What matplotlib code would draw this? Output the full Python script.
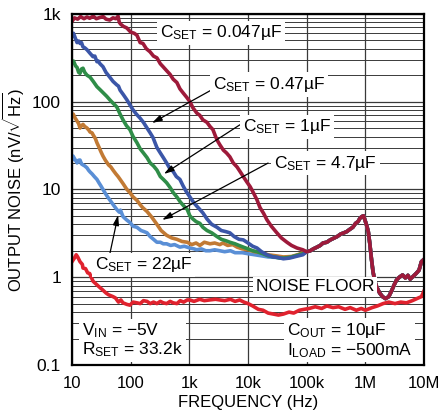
import numpy as np
import matplotlib
matplotlib.use("Agg")
import matplotlib.pyplot as plt
from matplotlib.ticker import LogLocator, FixedLocator, FixedFormatter, NullLocator

# ---------------------------------------------------------------------------
# Data (frequency in Hz, noise in nV/rtHz)
# ---------------------------------------------------------------------------

# shared high-frequency tail: all C_SET curves merge above ~100kHz
tail_f = [100e3, 115e3, 130e3, 150e3, 170e3, 190e3, 220e3, 250e3, 280e3, 330e3,
          380e3, 430e3, 480e3, 540e3, 610e3, 680e3, 750e3, 810e3, 870e3, 930e3,
          980e3, 1.05e6, 1.12e6, 1.19e6, 1.27e6, 1.35e6, 1.45e6, 1.55e6, 1.75e6,
          1.96e6, 2.2e6, 2.5e6, 2.8e6, 3.1e6, 3.4e6, 3.8e6, 4.3e6, 4.8e6, 5.3e6,
          5.8e6, 6.5e6, 7.3e6, 8.2e6, 9.0e6, 10e6]
tail_v = [1.95, 2.0, 2.1, 2.2, 2.3, 2.45, 2.5, 2.65, 2.75, 2.9,
          3.1, 3.2, 3.3, 3.5, 3.7, 4.1, 4.3, 4.7, 4.9, 5.0,
          4.5, 3.9, 3.3, 2.4, 1.6, 1.15, 0.9, 0.78, 0.66,
          0.6, 0.57, 0.6, 0.7, 0.82, 0.93, 1.0, 1.06, 0.98, 1.05,
          0.95, 1.02, 1.1, 1.2, 1.5, 1.6]

f_047 = [10, 11, 12.5, 14, 16, 18, 20, 23, 26, 30, 34, 38, 44, 50, 56, 61, 64, 68,
         75, 86, 100, 115, 128, 145, 162, 185, 213, 245, 280, 320, 356, 410, 467,
         530, 613, 690, 780, 900, 1020, 1150, 1340, 1500, 1700, 2000, 2250, 2520,
         2800, 3000, 3330, 3800, 4300, 4900, 5600, 6500, 7300, 8300, 9500, 10.9e3,
         12.5e3, 14.2e3, 16e3, 18.5e3, 21e3, 25e3, 31e3, 37e3, 46e3, 55e3, 68e3, 86e3]
v_047 = [820, 900, 870, 930, 880, 920, 890, 940, 880, 910, 930, 870, 850, 900, 880,
         940, 800, 760, 720, 690, 620, 600, 570, 470, 460, 400, 370, 330, 315, 270,
         250, 225, 205, 180, 165, 140, 126, 112, 100, 85, 74, 70, 62, 58, 52, 48,
         40, 36, 32, 28, 26, 23.5, 20, 18, 16, 14, 12.2, 10.7, 9, 7.6, 6.2, 5.3,
         4.5, 3.8, 3.2, 2.8, 2.5, 2.3, 2.15, 2.05]

f_047u = [10, 10.6, 11.5, 12.2, 13, 13.7, 14.5, 15.4, 16.5, 18, 20.3, 22.8, 24.5,
          26.6, 28, 30, 33.7, 38, 44, 50, 58, 62, 66, 75, 86, 97, 109, 125, 144,
          165, 190, 215, 240, 260, 280, 320, 360, 410, 460, 530, 600, 690, 780,
          880, 1020, 1200, 1350, 1510, 1700, 2000, 2400, 2960, 3500, 4200, 4900,
          5800, 7000, 8300, 10e3, 12e3, 14.2e3, 17e3, 21e3, 26.7e3, 32e3, 40e3,
          51e3, 65e3, 86e3]
v_047u = [560, 600, 520, 470, 490, 460, 470, 420, 410, 390, 355, 325, 330, 285,
          290, 270, 250, 215, 190, 170, 155, 150, 135, 120, 105, 92, 81, 72, 65,
          58, 50, 44, 39, 34, 30, 26, 23, 20, 17.5, 16, 14, 13, 11, 9.5, 8.2, 7,
          6.4, 5.9, 5.4, 4.6, 4.0, 3.7, 3.4, 3.3, 3.2, 2.9, 2.7, 2.66, 2.45, 2.25,
          2.15, 1.95, 1.8, 1.7, 1.68, 1.62, 1.65, 1.72, 1.8]

f_1u = [10, 10.6, 11.5, 12.2, 13, 13.7, 14.5, 15.4, 16.5, 18, 20.3, 23, 26.6, 30,
        34, 39, 44, 50, 58, 66, 74, 85, 97, 110, 128, 145, 165, 190, 215, 245,
        280, 320, 360, 410, 470, 530, 613, 700, 800, 920, 1020, 1150, 1300, 1510,
        1700, 2000, 2400, 2960, 3500, 4200, 4900, 6000, 7000, 8300, 10e3, 12e3,
        14.2e3, 18e3, 22e3, 28e3, 35e3, 45e3, 55e3, 70e3, 86e3]
v_1u = [280, 290, 255, 245, 215, 210, 235, 240, 215, 200, 190, 170, 148, 137,
        126, 115, 105, 96, 87, 72, 62, 53, 48, 40, 34, 29, 26, 23, 20, 18.5,
        16.6, 14, 13, 11.9, 10.5, 9.2, 8.2, 7.2, 6.5, 5.9, 5.0, 4.6, 4.3, 4.1,
        3.7, 3.4, 3.2, 2.9, 2.7, 2.6, 2.5, 2.4, 2.3, 2.2, 2.1, 2.0, 1.95, 1.85,
        1.75, 1.7, 1.65, 1.66, 1.7, 1.78, 1.85]

f_47u = [10, 10.5, 11.3, 12.2, 13, 13.7, 14.5, 15.4, 16.5, 18, 19.5, 20.3, 22,
         22.8, 25, 26.6, 29, 31, 33.7, 37, 42, 46, 50, 56, 61, 66, 75, 86, 97,
         110, 128, 145, 160, 190, 230, 280, 330, 410, 500, 613, 750, 920, 1100,
         1300, 1510, 1800, 2250, 2700, 3300, 3740, 4500, 5500, 6500, 8000, 10e3,
         13e3, 17e3, 22e3, 30e3, 40e3, 55e3, 70e3, 86e3]
v_47u = [68, 72, 65, 60, 56, 50, 53, 55, 52, 50, 47, 45, 44, 42, 38, 34, 30, 27,
         24, 21.5, 19, 18, 16.6, 15, 14, 13, 11.5, 10, 9.2, 8.2, 7.5, 6.7, 6.2,
         5.6, 4.8, 4.0, 3.4, 3.0, 2.8, 2.7, 2.55, 2.5, 2.35, 2.45, 2.3, 2.5, 2.4,
         2.45, 2.35, 2.45, 2.3, 2.35, 2.2, 2.1, 2.05, 1.95, 1.9, 1.8, 1.75, 1.7,
         1.72, 1.8, 1.9]

f_22u = [10, 10.4, 11, 11.7, 12.2, 13, 13.7, 14.5, 15.4, 16.5, 18, 19.2, 20.3, 22,
         24, 26.6, 29, 31, 33.7, 37, 40, 44, 48, 52, 58, 64, 67, 74, 85, 97, 110,
         128, 150, 170, 190, 215, 245, 280, 320, 360, 410, 480, 560, 690, 820,
         1020, 1200, 1340, 1600, 1900, 2250, 2700, 3300, 4000, 5000, 6000, 8000,
         10e3, 13e3, 17e3, 22e3, 30e3, 40e3, 55e3, 70e3, 86e3]
v_22u = [22, 24, 22.5, 21, 20, 21.5, 21.6, 19.5, 19, 18.5, 17.6, 16.5, 15.8, 15,
         14, 13, 11.8, 11, 10, 9, 8.3, 7.6, 7.0, 6.5, 5.9, 5.5, 5.8, 4.9, 4.5,
         4.2, 3.8, 3.7, 3.4, 3.3, 3.2, 2.9, 2.7, 2.5, 2.5, 2.4, 2.4, 2.3, 2.35,
         2.2, 2.25, 2.15, 2.1, 2.05, 2.1, 2.0, 2.0, 2.05, 2.0, 1.95, 2.0, 1.9,
         1.9, 1.85, 1.8, 1.75, 1.7, 1.68, 1.65, 1.7, 1.78, 1.85]

f_floor = [10, 11, 11.8, 12.5, 13.7, 15, 15.4, 17, 18.5, 20, 22.8, 25, 30, 33, 38,
           42, 50, 55, 62, 68, 74, 86, 97, 110, 128, 145, 165, 190, 215, 245, 280,
           320, 360, 410, 470, 530, 613, 700, 800, 920, 1020, 1200, 1500, 1800,
           2200, 2800, 3300, 4000, 5000, 6000, 7200, 8500, 10e3, 12e3, 15e3, 18e3,
           22e3, 27e3, 33e3, 40e3, 50e3, 60e3, 75e3, 90e3, 110e3, 140e3, 180e3,
           220e3, 280e3, 350e3, 450e3, 550e3, 700e3, 850e3, 1e6, 1.3e6, 1.6e6,
           2e6, 2.5e6, 3.2e6, 4e6, 5e6, 6.3e6, 8e6, 9e6, 10e6]
v_floor = [1.5, 1.65, 1.8, 1.7, 1.5, 1.4, 1.27, 1.25, 1.12, 1.1, 0.9, 0.85, 0.76,
           0.72, 0.66, 0.63, 0.6, 0.58, 0.52, 0.55, 0.51, 0.49, 0.48, 0.52, 0.51,
           0.5, 0.54, 0.53, 0.5, 0.52, 0.5, 0.53, 0.51, 0.5, 0.53, 0.51, 0.5, 0.54,
           0.52, 0.55, 0.55, 0.53, 0.56, 0.54, 0.55, 0.56, 0.55, 0.54, 0.56, 0.53,
           0.55, 0.52, 0.5, 0.47, 0.43, 0.42, 0.39, 0.38, 0.37, 0.38, 0.4, 0.39,
           0.42, 0.43, 0.44, 0.46, 0.44, 0.47, 0.45, 0.46, 0.43, 0.45, 0.42, 0.44,
           0.42, 0.45, 0.47, 0.5, 0.52, 0.5, 0.52, 0.51, 0.54, 0.58, 0.6, 0.7]

x_ticks = [10, 100, 1e3, 1e4, 1e5, 1e6, 1e7]
x_tick_labels = ["10", "100", "1k", "10k", "100k", "1M", "10M"]
y_ticks = [0.1, 1, 10, 100, 1000]
y_tick_labels = ["0.1", "1", "10", "100", "1k"]

# ---------------------------------------------------------------------------
# Style
# ---------------------------------------------------------------------------

plt.rcParams["font.family"] = ["Liberation Sans", "DejaVu Sans"]
plt.rcParams["mathtext.fontset"] = "custom"
plt.rcParams["mathtext.rm"] = "Liberation Sans"
plt.rcParams["mathtext.it"] = "Liberation Sans"
plt.rcParams["mathtext.bf"] = "Liberation Sans"

C_DARKRED = "#9e1a3a"
C_BLUE = "#3b56a8"
C_GREEN = "#2f8d48"
C_ORANGE = "#c27a34"
C_LIGHTBLUE = "#5a8fd6"
C_RED = "#e0222e"

fig = plt.figure(figsize=(4.39, 4.19), dpi=100)
ax = fig.add_axes([0.164, 0.129, 0.802, 0.838])

ax.set_xscale("log")
ax.set_yscale("log")
ax.set_xlim(10, 1e7)
ax.set_ylim(0.1, 1000)

lw = 2.6
ax.plot(f_floor, v_floor, color=C_RED, lw=lw, zorder=3)
ax.plot(f_22u + tail_f, v_22u + tail_v, color=C_LIGHTBLUE, lw=lw, zorder=3)
ax.plot(f_47u + tail_f, v_47u + tail_v, color=C_ORANGE, lw=lw, zorder=3)
ax.plot(f_1u + tail_f, v_1u + tail_v, color=C_GREEN, lw=lw, zorder=3)
ax.plot(f_047u + tail_f, v_047u + tail_v, color=C_BLUE, lw=lw, zorder=3)
ax.plot(f_047 + tail_f, v_047 + tail_v, color=C_DARKRED, lw=lw, zorder=3)

# grid: decade lines both ways, minor lines only on y
ax.xaxis.set_major_locator(FixedLocator(x_ticks))
ax.xaxis.set_major_formatter(FixedFormatter(x_tick_labels))
ax.xaxis.set_minor_locator(NullLocator())
ax.yaxis.set_major_locator(FixedLocator(y_ticks))
ax.yaxis.set_major_formatter(FixedFormatter(y_tick_labels))
ax.yaxis.set_minor_locator(LogLocator(base=10, subs=np.arange(2, 10)))
ax.grid(which="major", color="#3a3a3a", lw=0.9, zorder=1)
ax.grid(which="minor", axis="y", color="#3a3a3a", lw=0.7, zorder=1)
ax.tick_params(which="both", length=0)
ax.tick_params(axis="x", pad=8, labelsize=12)
ax.tick_params(axis="y", pad=8, labelsize=12.5)
for sp in ax.spines.values():
    sp.set_linewidth(1.6)
    sp.set_zorder(6)

ax.set_xlabel("FREQUENCY (Hz)", fontsize=12, labelpad=3)
ax.set_ylabel(r"OUTPUT NOISE (nV/$\mathregular{\sqrt{Hz}}$)", fontsize=12, labelpad=4)

# ---------------------------------------------------------------------------
# Annotations (axes-fraction coordinates)
# ---------------------------------------------------------------------------

box = dict(facecolor="white", edgecolor="none", pad=2.0)
txt = dict(transform=ax.transAxes, fontsize=12.5, ha="left", va="center",
           bbox=box, zorder=5)

ax.text(0.250, 0.946, r"$\mathregular{C_{SET}}$ = 0.047µF", **txt)
ax.text(0.401, 0.798, r"$\mathregular{C_{SET}}$ = 0.47µF", **txt)
ax.text(0.486, 0.678, r"$\mathregular{C_{SET}}$ = 1µF", **txt)
ax.text(0.574, 0.575, r"$\mathregular{C_{SET}}$ = 4.7µF", **txt)
ax.text(0.065, 0.285, r"$\mathregular{C_{SET}}$ = 22µF", **txt)
ax.text(0.523, 0.222, "NOISE FLOOR", **txt)
ax.text(0.028, 0.070,
        "$\\mathregular{V_{IN}}$ = \u22125V\n$\\mathregular{R_{SET}}$ = 33.2k",
        linespacing=1.05, **txt)
ax.text(0.611, 0.070,
        "$\\mathregular{C_{OUT}}$ = 10µF\n$\\mathregular{I_{LOAD}}$ = \u2212500mA",
        linespacing=1.05, **txt)

arrows = [
    ((0.412, 0.792), (0.227, 0.689)),
    ((0.477, 0.684), (0.261, 0.544)),
    ((0.557, 0.575), (0.256, 0.413)),
    ((0.108, 0.319), (0.131, 0.427)),
]
for tail, tip in arrows:
    ax.annotate("", xy=tip, xytext=tail, xycoords="axes fraction",
                textcoords="axes fraction", zorder=4,
                arrowprops=dict(arrowstyle="-|>,head_length=0.6,head_width=0.18",
                                color="black", lw=0.9, shrinkA=0, shrinkB=0))

fig.savefig("out.png", dpi=100)
